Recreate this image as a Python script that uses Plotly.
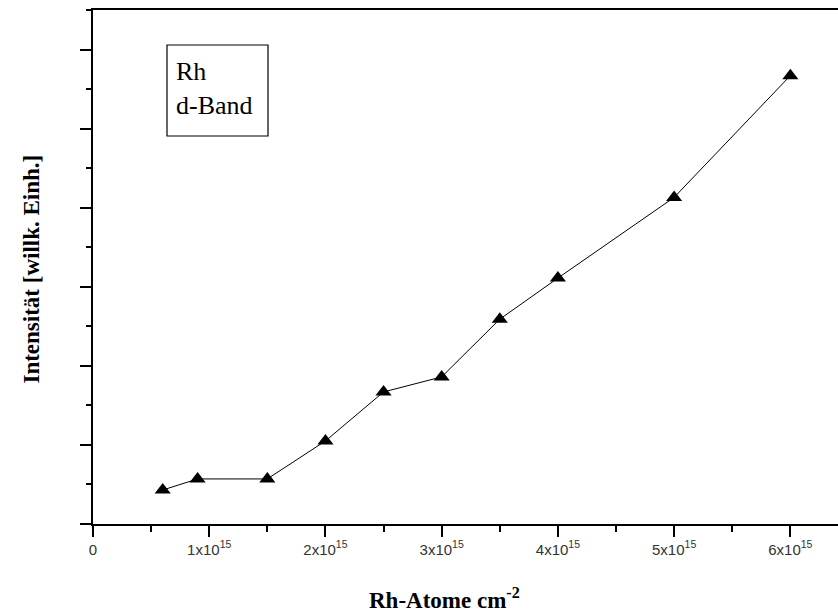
import plotly.graph_objects as go

# Rh coverage (atoms per cm^2) and d-band intensity (arbitrary units)
coverage = [0.6e15, 0.9e15, 1.5e15, 2.0e15, 2.5e15, 3.0e15, 3.5e15, 4.0e15, 5.0e15, 6.0e15]
intensity = [0.43, 0.57, 0.57, 1.05, 1.67, 1.86, 2.59, 3.11, 4.13, 5.67]

x_tick_vals = [0, 1e15, 2e15, 3e15, 4e15, 5e15, 6e15]
x_tick_text = ["0", "1x10<sup>15</sup>", "2x10<sup>15</sup>", "3x10<sup>15</sup>",
               "4x10<sup>15</sup>", "5x10<sup>15</sup>", "6x10<sup>15</sup>"]

SERIF = "Times New Roman, Liberation Serif, DejaVu Serif, serif"

fig = go.Figure()
fig.add_trace(go.Scatter(
    x=coverage, y=intensity, mode="lines+markers",
    line=dict(color="black", width=1),
    marker=dict(symbol="triangle-up", size=14, color="black"),
    showlegend=False,
))

fig.update_layout(
    width=838, height=615,
    margin=dict(l=93, r=0, t=10, b=91),
    paper_bgcolor="white", plot_bgcolor="white",
    xaxis=dict(
        range=[0, 6.41e15], showgrid=False, zeroline=False,
        showline=True, linecolor="black", linewidth=1.5, mirror=True,
        ticks="outside", ticklen=11, tickwidth=1.5, tickcolor="black",
        tickvals=x_tick_vals, ticktext=x_tick_text,
        tickfont=dict(family="Liberation Sans", size=15, color="#333"),
        minor=dict(dtick=0.5e15, tick0=0, ticks="outside", ticklen=6,
                   tickwidth=1.5, tickcolor="black", showgrid=False),
    ),
    yaxis=dict(
        range=[0, 6.5], showgrid=False, zeroline=False,
        showline=True, linecolor="black", linewidth=1.5,
        ticks="outside", ticklen=11, tickwidth=1.5, tickcolor="black",
        dtick=1, tick0=0, showticklabels=False,
        minor=dict(dtick=0.5, tick0=0, ticks="outside", ticklen=5,
                   tickwidth=1.5, tickcolor="black", showgrid=False),
    ),
)

# Axis titles
fig.add_annotation(
    text="<b>Rh-Atome cm<sup>-2</sup></b>", xref="paper", yref="paper",
    x=0.472, y=0, yshift=-74, showarrow=False, yanchor="middle",
    font=dict(family=SERIF, size=23, color="black"),
)
fig.add_annotation(
    text="<b>Intensität [willk. Einh.]</b>", xref="paper", yref="paper",
    x=0, xshift=-61, y=0.495, showarrow=False, textangle=-90, xanchor="center",
    font=dict(family=SERIF, size=23, color="black"),
)

# Label box
fig.add_shape(type="rect", xref="paper", yref="paper",
              x0=(167 - 93) / 745, x1=(268 - 93) / 745,
              y0=(524 - 136) / 514, y1=(524 - 45) / 514,
              line=dict(color="black", width=1.2), fillcolor="white")
fig.add_annotation(
    text="Rh<br>d-Band", xref="paper", yref="paper",
    x=(174 - 93) / 745, y=(524 - 88) / 514, xanchor="left", yanchor="middle",
    align="left", showarrow=False,
    font=dict(family=SERIF, size=26, color="black"),
)

fig.write_html("out.html")
